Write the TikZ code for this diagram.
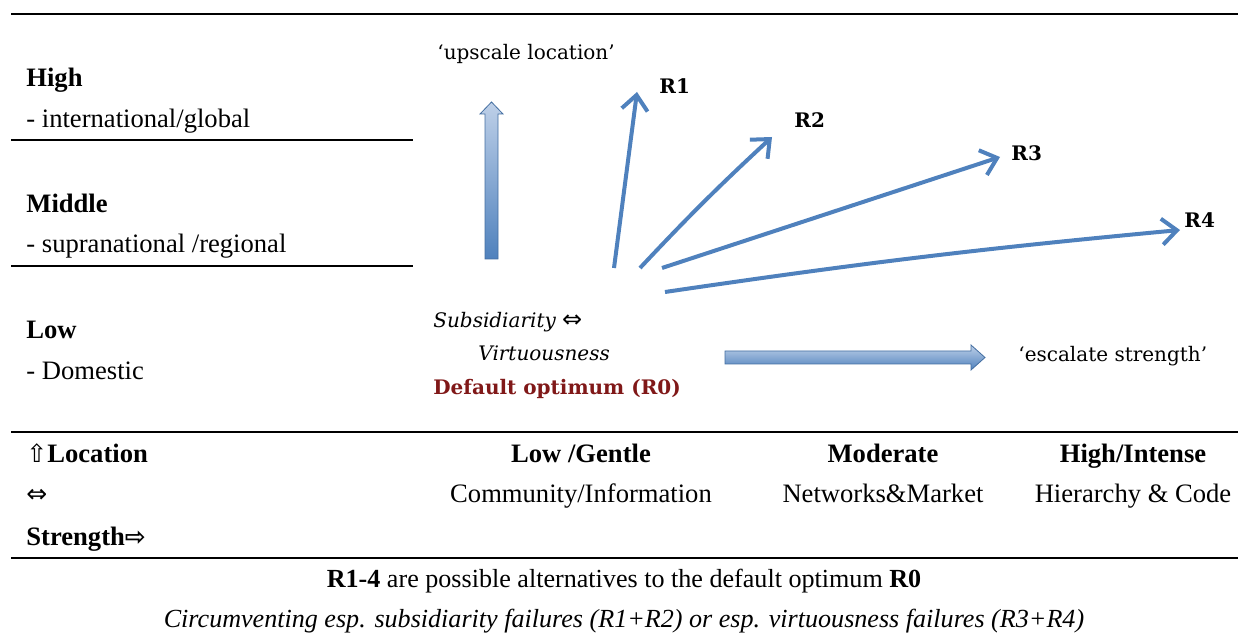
\documentclass[tikz,border=0pt]{standalone}
\usepackage{fontspec}
\setmainfont{Liberation Serif}
\newfontfamily\dfont{DejaVu Serif}
\newfontfamily\symfont{DejaVu Sans}
\usetikzlibrary{arrows.meta}
\definecolor{ablue}{RGB}{79,129,189}
\definecolor{lblue}{RGB}{190,208,232}
\definecolor{dred}{RGB}{128,24,24}
\newcommand{\symb}[1]{{\symfont\fontsize{12.5}{14}\selectfont #1}}
\begin{document}
\begin{tikzpicture}[x=0.5pt,y=-0.5pt,
  tab/.style={font=\fontsize{13.3}{15}\selectfont, inner sep=0pt},
  tabl/.style={tab, anchor=base west},
  tabc/.style={tab, anchor=base},
  capc/.style={font=\fontsize{13.05}{15}\selectfont, inner sep=0pt, anchor=base},
  rule/.style={line width=1pt, black},
  dtext/.style={font=\dfont\fontsize{10}{12}\selectfont, inner sep=0pt, anchor=base west},
  rlab/.style={font=\dfont\bfseries\fontsize{10}{12}\selectfont, inner sep=0pt, anchor=base west},
  rarrow/.style={draw=ablue, line width=2pt, -{Straight Barb[length=7.5pt,width=13pt]}},
  blockarrow/.style={draw=ablue!85!black, line width=0.4pt}
]
\useasboundingbox (0,0) rectangle (1238,635);
% rules
\draw[rule] (11,14) -- (1238,14);
\draw[rule] (11,140) -- (413,140);
\draw[rule] (11,266) -- (413,266);
\draw[rule] (11,432) -- (1238,432);
\draw[rule] (11,558) -- (1238,558);
% left column
\node[tabl] (high) at (26,87) {\bfseries High};
\node[tabl] (highd) at (26,128) {- international/global};
\node[tabl] (mid) at (26,213) {\bfseries Middle};
\node[tabl] (midd) at (26,253) {- supranational /regional};
\node[tabl] (low) at (26,339) {\bfseries Low};
\node[tabl] (lowd) at (26,380) {- Domestic};
% bottom rows
\node[tabl] (loc) at (26,463) {\symb{⇧}\bfseries Location};
\node[tabl] (lr) at (26,503) {\symb{⇔}};
\node[tabl] (str) at (26,546) {\bfseries Strength\symb{⇨}};
\node[tabc] (c1) at (581,463) {\bfseries Low /Gentle};
\node[tabc] (c1d) at (581,503) {Community/Information};
\node[tabc] (c2) at (883,463) {\bfseries Moderate};
\node[tabc] (c2d) at (883,503) {Networks\&Market};
\node[tabc] (c3) at (1133,463) {\bfseries High/Intense};
\node[tabc] (c3d) at (1133,503) {Hierarchy \& Code};
\node[capc] (cap1) at (624,588) {\bfseries R1-4 \mdseries are possible alternatives to the default optimum \bfseries R0};
\node[capc] (cap2) at (624,628) {\itshape Circumventing esp. subsidiarity failures (R1+R2) or esp. virtuousness failures (R3+R4)};
% diagram texts
\node[dtext] (up) at (437,60) {‘upscale location’};
\node[dtext] (esc) at (1018,362) {‘escalate strength’};
\node[dtext] (sub) at (433,328) {\itshape Subsidiarity {\symfont\fontsize{12}{14}\selectfont ⇔}};
\node[dtext] (vir) at (478,361) {\itshape Virtuousness};
\node[dtext, font=\dfont\bfseries\fontsize{10}{12}\selectfont, text=dred] (def) at (433,395) {Default optimum (R0)};
\node[rlab] (l1) at (659,94) {R1};
\node[rlab] (l2) at (794,128) {R2};
\node[rlab] (l3) at (1011,161) {R3};
\node[rlab] (l4) at (1184,228) {R4};
% block arrows
\shade[top color=lblue, bottom color=ablue, blockarrow]
  (485,259) -- (485,114) -- (480,114) -- (491.5,102) -- (503,114) -- (498,114) -- (498,259) -- cycle;
\shade[top color=lblue, bottom color=ablue, blockarrow]
  (725,351) -- (971,351) -- (971,345) -- (985,357.5) -- (971,370) -- (971,364) -- (725,364) -- cycle;
% R arrows
\coordinate (r1s) at (614,268); \coordinate (r1e) at (637,92);
\coordinate (r2s) at (640,268); \coordinate (r2e) at (772,137);
\coordinate (r3s) at (662,268); \coordinate (r3e) at (1000,157);
\coordinate (r4s) at (665,292); \coordinate (r4e) at (1180,230);
\draw[rarrow] (r1s) -- (r1e);
\draw[rarrow] (r2s) to[bend left=2] (r2e);
\draw[rarrow] (r3s) -- (r3e);
\draw[rarrow] (r4s) to[bend left=1.5] (r4e);
\end{tikzpicture}
\end{document}
